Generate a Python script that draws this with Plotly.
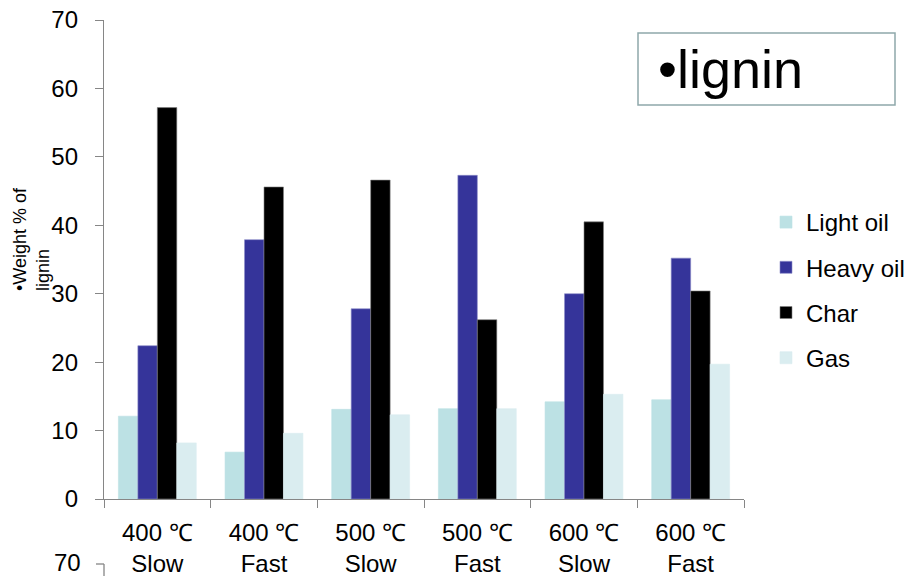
import plotly.graph_objects as go

categories = ["400 ℃<br>Slow", "400 ℃<br>Fast", "500 ℃<br>Slow", "500 ℃<br>Fast", "600 ℃<br>Slow", "600 ℃<br>Fast"]
light_oil = [12.1, 6.85, 13.1, 13.2, 14.2, 14.5]
heavy_oil = [22.4, 37.9, 27.8, 47.3, 30.0, 35.2]
char = [57.2, 45.6, 46.6, 26.2, 40.5, 30.4]
gas = [8.2, 9.6, 12.3, 13.2, 15.3, 19.7]

series_names = ["Light oil", "Heavy oil", "Char", "Gas"]
series_values = [light_oil, heavy_oil, char, gas]
series_colors = ["#BCE1E4", "#35349A", "#000000", "#DAEDF0"]
series_lines = ["#BCE1E4", "#8C8CC8", "#808080", "#DAEDF0"]

FONT = "Liberation Sans, Arial, sans-serif"

fig = go.Figure()
for name, vals, col, lc in zip(series_names, series_values, series_colors, series_lines):
    fig.add_trace(go.Bar(
        x=categories, y=vals, name=name, legendgroup=name,
        marker=dict(color=col, line=dict(color=lc, width=0.6)),
    ))

W, H = 917, 576
L, R, T, B = 104, 173, 20, 77
pw, ph = W - L - R, H - T - B

def px_x(x):
    return (x - L) / pw

def px_y(y):
    return (H - B - y) / ph

fig.update_layout(
    width=W, height=H,
    margin=dict(l=L, r=R, t=T, b=B, pad=0, autoexpand=False),
    paper_bgcolor="white", plot_bgcolor="white",
    barmode="group", bargap=0.27, bargroupgap=0,
    font=dict(family=FONT, size=24, color="black"),
    showlegend=True,
    legend=dict(
        xref="container", yref="container",
        x=766 / W, y=1 - 200 / H, xanchor="left", yanchor="top",
        font=dict(size=24, family=FONT), tracegroupgap=11,
        bgcolor="rgba(0,0,0,0)", borderwidth=0,
    ),
    xaxis=dict(
        type="category", showline=True, linecolor="#868686", linewidth=1.3,
        ticks="outside", tickson="boundaries", ticklen=8, tickcolor="#868686",
        tickfont=dict(size=24, family=FONT), showgrid=False, zeroline=False,
        ticklabelstandoff=12, automargin=False,
    ),
    yaxis=dict(
        range=[0, 70], dtick=10, showline=True, linecolor="#868686", linewidth=1.3,
        ticks="outside", ticklen=8, tickcolor="#868686", showgrid=False,
        zeroline=False, tickfont=dict(size=24, family=FONT),
        ticklabelstandoff=12, automargin=False,
    ),
)

# y-axis title (rotated, left aligned lines)
fig.add_annotation(
    text="•Weight % of<br>lignin", textangle=-90, align="left",
    xref="paper", yref="paper", x=px_x(31), y=px_y(239),
    xanchor="center", yanchor="middle", showarrow=False,
    font=dict(size=18, family=FONT),
)

# Title box
fig.add_shape(type="rect", xref="paper", yref="paper",
              x0=px_x(638), x1=px_x(895), y0=px_y(105), y1=px_y(33),
              line=dict(color="#8FA8AB", width=1.5), fillcolor="white", layer="above")
fig.add_annotation(
    text="•lignin", xref="paper", yref="paper", x=px_x(656), y=px_y(69),
    xanchor="left", yanchor="middle", showarrow=False,
    font=dict(size=54, family=FONT),
)

# Cut-off top of a second chart below
fig.add_annotation(
    text="70", xref="paper", yref="paper", x=px_x(83), y=px_y(562),
    xanchor="right", yanchor="middle", showarrow=False,
    font=dict(size=24, family=FONT),
)
fig.add_shape(type="line", xref="paper", yref="paper",
              x0=0, x1=0, y0=px_y(564), y1=px_y(580),
              line=dict(color="#868686", width=1.3))
fig.add_shape(type="line", xref="paper", yref="paper",
              x0=px_x(96), x1=0, y0=px_y(564), y1=px_y(564),
              line=dict(color="#868686", width=1.3))

fig.write_html("out.html")
